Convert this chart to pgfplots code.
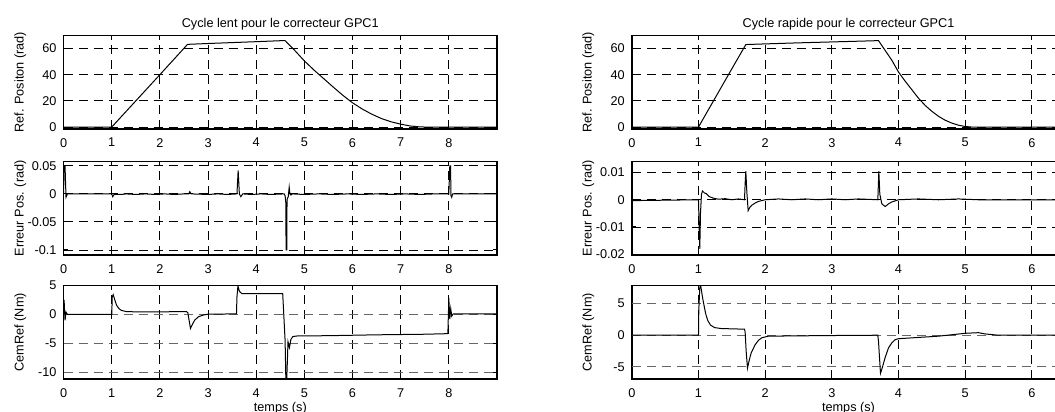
\documentclass[border=0pt]{standalone}
\usepackage{fontspec}
\setmainfont{Liberation Sans}
\usepackage{pgfplots}
\pgfplotsset{compat=1.18}
\newcommand{\fs}{\fontsize{6.35}{7.2}\selectfont}
\pgfplotsset{
  every axis title shift=0pt,
  mstyle/.style={
    scale only axis, width=216.7pt, height=46.8pt, anchor=south west,
    axis line style={line width=0.7pt},
    /pgf/number format/assume math mode=true,
    scaled y ticks=false, scaled x ticks=false,
    tick align=inside, xtick pos=both, ytick pos=both, major tick length=2.2pt,
    every tick/.style={black, line width=0.5pt},
    grid=major,
    major grid style={black, line width=0.45pt, dash pattern=on 4.5pt off 3pt},
    tick label style={font=\fs},
    label style={font=\fs},
    xticklabel style={yshift=-1.1pt},
    title style={font=\fs, at={(axis description cs:0.5,1)}, anchor=center, yshift=5.6pt},
    ylabel style={at={(axis description cs:-0.1,0.5)}, anchor=center},
    xlabel style={at={(axis description cs:0.5,0)}, anchor=center, yshift=-14.6pt},
  },
  lcol/.style={mstyle, xmin=0, xmax=9, xtick={0,1,2,3,4,5,6,7,8}},
  rcol/.style={mstyle, xmin=0, xmax=6.5, xtick={0,1,2,3,4,5,6}},
  gbot/.style={ymajorgrids=false},
}
\begin{document}
\begin{tikzpicture}
\useasboundingbox (0,0) rectangle (527.5pt,206pt);
\clip (0,0) rectangle (527.5pt,206pt);
% ---------------- Left column: Cycle lent ----------------
\begin{axis}[lcol, at={(31.8pt,141.5pt)}, ymin=-1.5, ymax=70, ytick={0,20,40,60},
  title={Cycle lent pour le correcteur GPC1}, ylabel={Ref. Positon (rad)}]
\addplot[black, line width=0.5pt] coordinates {
(0,0) (1,0) (2,40) (2.57,63) (2.6,63.2) (3,63.8) (3.5,64.5) (4,65.2) (4.55,66) (4.6,66)
(4.8,58.5) (5.0,50.5) (5.2,43.5) (5.4,37) (5.6,30.5) (5.8,24.2) (6.0,18.5) (6.2,13.8)
(6.4,9.8) (6.6,6.5) (6.8,4) (7.0,2.2) (7.2,0.8) (7.4,0.1) (7.5,0) (9,0)};
\end{axis}
\begin{axis}[lcol, at={(31.8pt,78.5pt)}, ymin=-0.109, ymax=0.058,
  ytick={-0.1,-0.05,0,0.05}, yticklabels={-0.1,-0.05,0,0.05},
  ylabel={Erreur Pos. (rad)}]
\addplot[black, line width=0.5pt] coordinates {
(0,0) (0.01,0.05) (0.03,0.05) (0.05,-0.006) (0.08,0) (1.0,0) (1.02,-0.005) (1.05,-0.001)
(1.2,-0.001) (1.3,0) (1.5,-0.001) (1.7,0) (1.9,-0.001) (2.1,0) (2.3,-0.001) (2.5,0)
(2.6,0) (2.62,0.004) (2.65,0) (3.0,-0.001) (3.2,0) (3.4,-0.001) (3.6,0) (3.625,0.042) (3.65,0)
(3.68,-0.005) (3.72,0) (3.9,-0.001) (4.1,0) (4.3,-0.001) (4.58,0) (4.60,-0.003) (4.615,-0.016)
(4.62,-0.1) (4.635,-0.1) (4.64,-0.01) (4.665,-0.005) (4.685,0.012) (4.70,0) (4.72,-0.002)
(4.75,0) (5.0,-0.001) (5.3,0) (5.6,-0.001) (5.9,0) (6.2,-0.001) (6.5,0) (6.8,-0.001)
(7.1,0) (7.4,-0.001) (7.7,0) (8.0,0) (8.02,0.05) (8.035,0.05) (8.045,-0.003) (8.06,-0.006)
(8.08,0) (9,0)};
\end{axis}
\begin{axis}[lcol, at={(31.8pt,16.5pt)}, ymin=-11.1, ymax=5, ytick={-10,-5,0,5},
  yticklabels={-10,-5,0,5}, gbot,
  ylabel={CemRef (Nm)}, xlabel={temps (s)}]
\draw[black!60, line width=0.45pt, dash pattern=on 4.5pt off 3pt]
  (axis cs:0,-10) -- (axis cs:9,-10) (axis cs:0,-5) -- (axis cs:9,-5) (axis cs:0,0) -- (axis cs:9,0);
\addplot[black, line width=0.5pt] coordinates {
(0,0) (0.01,2.5) (0.03,-1.0) (0.05,0.4) (0.08,0) (1.0,0) (1.01,3.0) (1.03,3.4) (1.06,2.6)
(1.1,1.6) (1.15,1.0) (1.2,0.7) (1.3,0.5) (1.5,0.45) (2.0,0.45) (2.55,0.5) (2.58,0.3)
(2.61,-1.2) (2.635,-2.4) (2.67,-1.8) (2.72,-1.0) (2.8,-0.4) (2.9,-0.1) (3.0,0.05) (3.59,0.1)
(3.6,3.0) (3.62,4.9) (3.65,4.0) (3.7,3.6) (4.55,3.6) (4.6,-4.5) (4.615,-11) (4.635,-11)
(4.66,-4.7) (4.69,-5.7) (4.72,-4.3) (4.76,-3.8) (4.85,-3.7) (5.5,-3.65) (6.5,-3.5)
(7.5,-3.4) (7.98,-3.3) (8.0,2.8) (8.02,-0.8) (8.04,1.0) (8.06,-0.3) (8.09,0.1) (9,0.1)};
\end{axis}
% ---------------- Right column: Cycle rapide ----------------
\begin{axis}[rcol, at={(315.9pt,141.5pt)}, ymin=-1.5, ymax=70, ytick={0,20,40,60},
  title={Cycle rapide pour le correcteur GPC1}, ylabel={Ref. Positon (rad)}]
\addplot[black, line width=0.5pt] coordinates {
(0,0) (1,0) (1.45,40) (1.71,63) (2,63.5) (2.5,64.3) (3,65) (3.5,65.7) (3.7,66)
(3.8,58.5) (3.9,51) (4.0,42) (4.1,35) (4.2,28.5) (4.3,22) (4.4,16.5) (4.5,12) (4.6,8.2)
(4.7,5.2) (4.8,3) (4.9,1.4) (5.0,0.4) (5.1,0) (6.5,0)};
\end{axis}
\begin{axis}[rcol, at={(315.9pt,78.5pt)}, ymin=-0.0203, ymax=0.0141,
  ytick={-0.02,-0.01,0,0.01}, yticklabels={-0.02,-0.01,0,0.01},
  ylabel={Erreur Pos. (rad)}]
\addplot[black, line width=0.5pt] coordinates {
(0,-0.0003) (0.05,-0.0003) (1.0,0) (1.01,-0.01) (1.02,-0.018) (1.03,-0.005) (1.045,0.002)
(1.06,0.0032) (1.09,0.0025) (1.12,0.0022) (1.16,0.0012) (1.22,0.0006) (1.3,0.0002)
(1.4,0.0004) (1.5,0) (1.6,0.0003) (1.69,0) (1.70,0.006) (1.71,0.0105) (1.725,0.003)
(1.745,-0.004) (1.77,-0.0028) (1.80,-0.002) (1.85,-0.0012) (1.9,-0.0006) (2.0,0)
(2.2,0.0003) (2.4,0) (2.6,0.0003) (2.8,0) (3.0,0.0003) (3.2,0) (3.4,0.0003) (3.69,0)
(3.705,0.0105) (3.72,0.002) (3.75,-0.0015) (3.80,-0.0025) (3.85,-0.0015) (3.9,-0.0008)
(4.0,0) (4.3,0.0003) (4.6,0) (4.9,0.0003) (5.2,0) (5.6,0) (6.5,0)};
\end{axis}
\begin{axis}[rcol, at={(315.9pt,16.5pt)}, ymin=-6.9, ymax=7.85, ytick={-5,0,5},
  yticklabels={-5,0,5}, gbot,
  ylabel={CemRef (Nm)}, xlabel={temps (s)}]
\draw[black!60, line width=0.45pt, dash pattern=on 4.5pt off 3pt]
  (axis cs:0,-5) -- (axis cs:6.5,-5) (axis cs:0,0) -- (axis cs:6.5,0) (axis cs:0,5) -- (axis cs:6.5,5);
\addplot[black, line width=0.5pt] coordinates {
(0,0) (1.0,0) (1.005,4) (1.02,7.6) (1.035,7.7) (1.06,6.0) (1.085,4.6) (1.11,3.3) (1.14,2.3)
(1.18,1.6) (1.24,1.2) (1.34,1.05) (1.69,0.95) (1.70,0.5) (1.715,-2.5) (1.735,-5.2)
(1.76,-4.0) (1.79,-2.8) (1.85,-1.5) (1.9,-0.8) (1.95,-0.4) (2.05,-0.15) (2.5,-0.1)
(3.0,-0.05) (3.69,0) (3.70,-1.0) (3.73,-6.0) (3.76,-5.0) (3.8,-3.5) (3.85,-2.0) (3.9,-1.2)
(3.95,-0.7) (4.0,-0.55) (4.3,-0.35) (4.6,-0.15) (5.0,0.3) (5.2,0.4) (5.3,0.2) (5.5,0) (6.5,0)};
\end{axis}
\end{tikzpicture}
\end{document}
